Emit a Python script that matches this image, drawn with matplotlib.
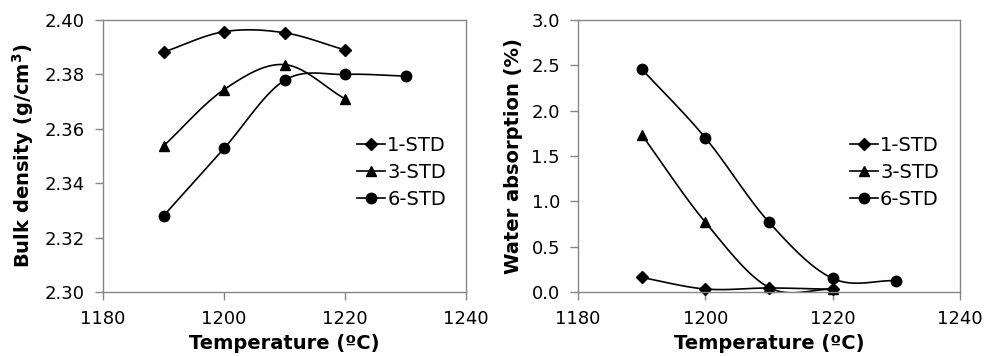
import numpy as np
import matplotlib
matplotlib.use("Agg")
import matplotlib.pyplot as plt

temps = [1190, 1200, 1210, 1220, 1230]
series = ["1-STD", "3-STD", "6-STD"]
markers = ["D", "^", "o"]
msizes = [6, 7.5, 7.5]

density_1 = [2.3882, 2.3957, 2.3953, 2.3890]
density_3 = [2.3537, 2.3744, 2.3836, 2.3710]
density_6 = [2.3280, 2.3528, 2.3778, 2.3800, 2.3794]

absorb_1 = [0.16, 0.033, 0.044, 0.03]
absorb_3 = [1.735, 0.77, 0.05, 0.03]
absorb_6 = [2.46, 1.70, 0.77, 0.15, 0.125]

plt.rcParams['font.family'] = ['DejaVu Sans']


def smooth(x, y, n=30):
    x = np.asarray(x, float); y = np.asarray(y, float)
    if len(x) < 3:
        return x, y
    px = np.concatenate([[x[0]], x, [x[-1]]])
    py = np.concatenate([[y[0]], y, [y[-1]]])
    xs, ys = [], []
    t = np.linspace(0, 1, n)
    for i in range(1, len(px) - 2):
        p0x, p1x, p2x, p3x = px[i-1], px[i], px[i+1], px[i+2]
        p0y, p1y, p2y, p3y = py[i-1], py[i], py[i+1], py[i+2]
        f0 = 1/6 if p0x != p1x else 1/3
        f3 = 1/6 if p2x != p3x else 1/3
        c1x = p1x + (p2x - p0x) * f0; c1y = p1y + (p2y - p0y) * f0
        c2x = p2x - (p3x - p1x) * f3; c2y = p2y - (p3y - p1y) * f3
        bx = (1-t)**3*p1x + 3*(1-t)**2*t*c1x + 3*(1-t)*t**2*c2x + t**3*p2x
        by = (1-t)**3*p1y + 3*(1-t)**2*t*c1y + 3*(1-t)*t**2*c2y + t**3*p2y
        xs.append(bx); ys.append(by)
    return np.concatenate(xs), np.concatenate(ys)


fig = plt.figure(figsize=(9.85, 3.56), dpi=100)
ax1 = fig.add_axes([0.1046, 0.1798, 0.3685, 0.764])
ax2 = fig.add_axes([0.5868, 0.1798, 0.3878, 0.764])

gray = "#868686"


def draw(ax, data, ylim, yticks, yfmt, ylabel, legx):
    for name, d, m, ms in zip(series, data, markers, msizes):
        xx = temps[:len(d)]
        sx, sy = smooth(xx, d)
        ax.plot(sx, sy, color="black", lw=1.2, clip_on=True)
        ax.plot(xx, d, linestyle="none", marker=m, color="black", ms=ms, clip_on=False)
        ax.plot([], [], color="black", lw=1.2, marker=m, ms=ms, label=name)
    ax.set_xlim(1180, 1240)
    ax.set_xticks([1180, 1200, 1220, 1240])
    ax.set_ylim(*ylim)
    ax.set_yticks(yticks)
    ax.set_yticklabels([yfmt.format(v) for v in yticks])
    for s in ax.spines.values():
        s.set_color(gray)
        s.set_linewidth(1.0)
    ax.tick_params(direction="out", length=6, width=1, color=gray, labelsize=13)
    ax.tick_params(axis="x", pad=7)
    ax.tick_params(axis="y", pad=7)
    ax.set_xlabel("Temperature (ºC)", fontsize=14, fontweight="bold", labelpad=4)
    ax.set_ylabel(ylabel, fontsize=14, fontweight="bold", labelpad=6)
    ax.legend(loc="center left", bbox_to_anchor=(legx, 0.44), frameon=False,
              fontsize=14, handlelength=1.45, handletextpad=0.1,
              labelspacing=0.4, borderaxespad=0, borderpad=0)


draw(ax1, [density_1, density_3, density_6], (2.30, 2.40),
     [2.30, 2.32, 2.34, 2.36, 2.38, 2.40], "{:.2f}", "Bulk density (g/cm$^\\mathbf{3}$)", 0.70)
draw(ax2, [absorb_1, absorb_3, absorb_6], (0, 3.0),
     [0, 0.5, 1.0, 1.5, 2.0, 2.5, 3.0], "{:.1f}", "Water absorption (%)", 0.712)

fig.savefig("out.png", dpi=100)
